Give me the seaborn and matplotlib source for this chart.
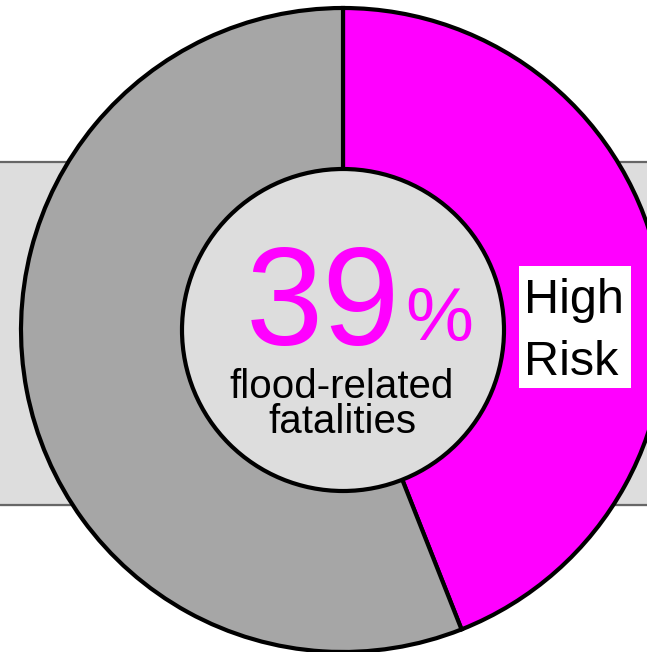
import matplotlib
matplotlib.use("Agg")
import matplotlib.pyplot as plt
import seaborn as sns
from matplotlib.patches import Circle, Rectangle

# data
segments = ["High Risk", "Other"]
shares = [44, 56]
colors = ["#ff00ff", "#a6a6a6"]
headline = "39"

sns.set_theme(style="white")
plt.rcParams['font.family'] = ['Liberation Sans', 'DejaVu Sans']

W, H = 647, 652
fig = plt.figure(figsize=(W / 100, H / 100), dpi=100)
ax = fig.add_axes([0, 0, 1, 1])

# pixel-style coordinates (y measured from bottom)
cx, cy = 343, H - 330
r_out, r_in = 322, 161

# grey band behind the donut
ax.fill_between([0, W], H - 505, H - 162, color="#dddddd", zorder=0)
ax.hlines([H - 162, H - 505], 0, W, color="#666666", lw=1.6, zorder=1)

ax.pie(shares, colors=colors, startangle=90, counterclock=False,
       center=(cx, cy), radius=r_out,
       wedgeprops=dict(edgecolor="black", linewidth=3), frame=False)
for w in ax.patches:
    w.set_zorder(2)

ax.add_patch(Circle((cx, cy), r_in, facecolor="#dddddd", edgecolor="black",
                    lw=3, zorder=3))

# big number
ax.text(323, H - 345, headline, color="#ff00ff", fontsize=100,
        ha="center", va="baseline", zorder=4)
ax.text(405, H - 340, "%", color="#ff00ff", fontsize=55,
        ha="left", va="baseline", zorder=4)
ax.text(342, H - 398, "flood-related", color="black", fontsize=29,
        ha="center", va="baseline", zorder=4)
ax.text(342, H - 433, "fatalities", color="black", fontsize=29,
        ha="center", va="baseline", zorder=4)

# label box
ax.add_patch(Rectangle((519, H - 388), 112, 122, facecolor="white",
                       edgecolor="none", zorder=4))
ax.text(524, H - 313, "High", color="black", fontsize=35,
        ha="left", va="baseline", zorder=5)
ax.text(524, H - 375, "Risk", color="black", fontsize=35,
        ha="left", va="baseline", zorder=5)

ax.set_xlim(0, W)
ax.set_ylim(0, H)
ax.set_aspect("equal")
ax.axis("off")

fig.savefig("out.png", dpi=100)
